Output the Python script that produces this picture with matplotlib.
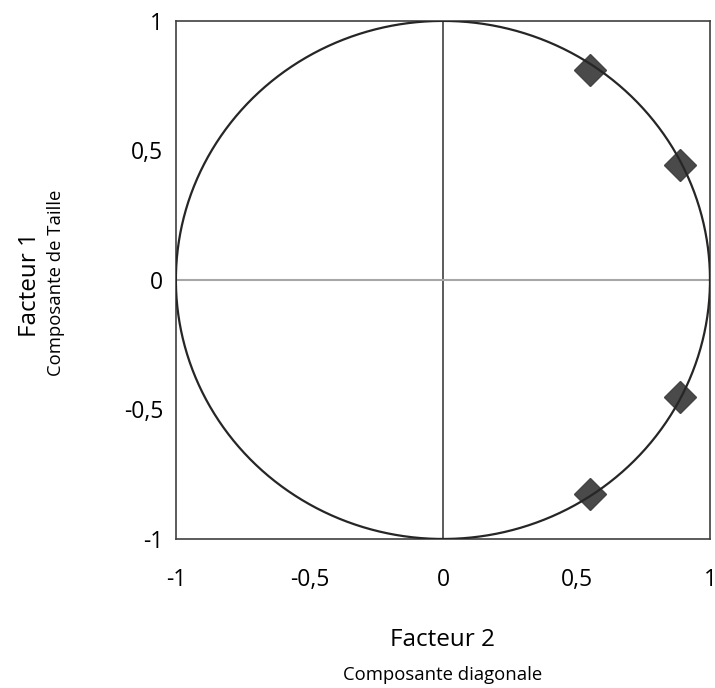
import numpy as np
import matplotlib.pyplot as plt

# Variable loadings on the two factors
facteur2 = [0.551, 0.888, 0.888, 0.551]
facteur1 = [0.811, 0.444, -0.452, -0.826]
tick_vals = [-1, -0.5, 0, 0.5, 1]
tick_labels = ["-1", "-0,5", "0", "0,5", "1"]

plt.rcParams['font.family'] = ['Open Sans', 'DejaVu Sans']

fig = plt.figure(figsize=(7.15, 6.88), dpi=100)
ax = fig.add_axes([0.246, 0.2166, 0.747, 0.753])

# Correlation circle
t = np.linspace(0, 2 * np.pi, 400)
ax.plot(np.cos(t), np.sin(t), color='#262626', lw=1.6, zorder=3)

ax.axvline(0, color='#404040', lw=1.2, zorder=1)
ax.axhline(0, color='#a6a6a6', lw=1.5, zorder=1)

ax.plot(facteur2, facteur1, linestyle='none', marker='D', markersize=16,
        color='#404040', markeredgecolor='#404040', alpha=0.95, zorder=2)

ax.set_xlim(-1, 1)
ax.set_ylim(-1, 1)
ax.set_xticks(tick_vals)
ax.set_xticklabels(tick_labels)
ax.set_yticks(tick_vals)
ax.set_yticklabels(tick_labels)
ax.tick_params(length=0, labelsize=16.5, colors='#000000')
ax.tick_params(axis='x', pad=21)
ax.tick_params(axis='y', pad=9)
for s in ax.spines.values():
    s.set_color('#404040')
    s.set_linewidth(1.2)

xc = 443 / 715
fig.text(xc, 1 - 640 / 688, "Facteur 2", ha='center', va='center', fontsize=17.5)
fig.text(xc, 1 - 675 / 688, "Composante diagonale", ha='center', va='center', fontsize=13.3)
fig.text(30 / 715, 1 - 285 / 688, "Facteur 1", ha='center', va='center', fontsize=17.5, rotation=90)
fig.text(56 / 715, 1 - 283 / 688, "Composante de Taille", ha='center', va='center', fontsize=13.3, rotation=90)

fig.savefig("out.png", dpi=100)
